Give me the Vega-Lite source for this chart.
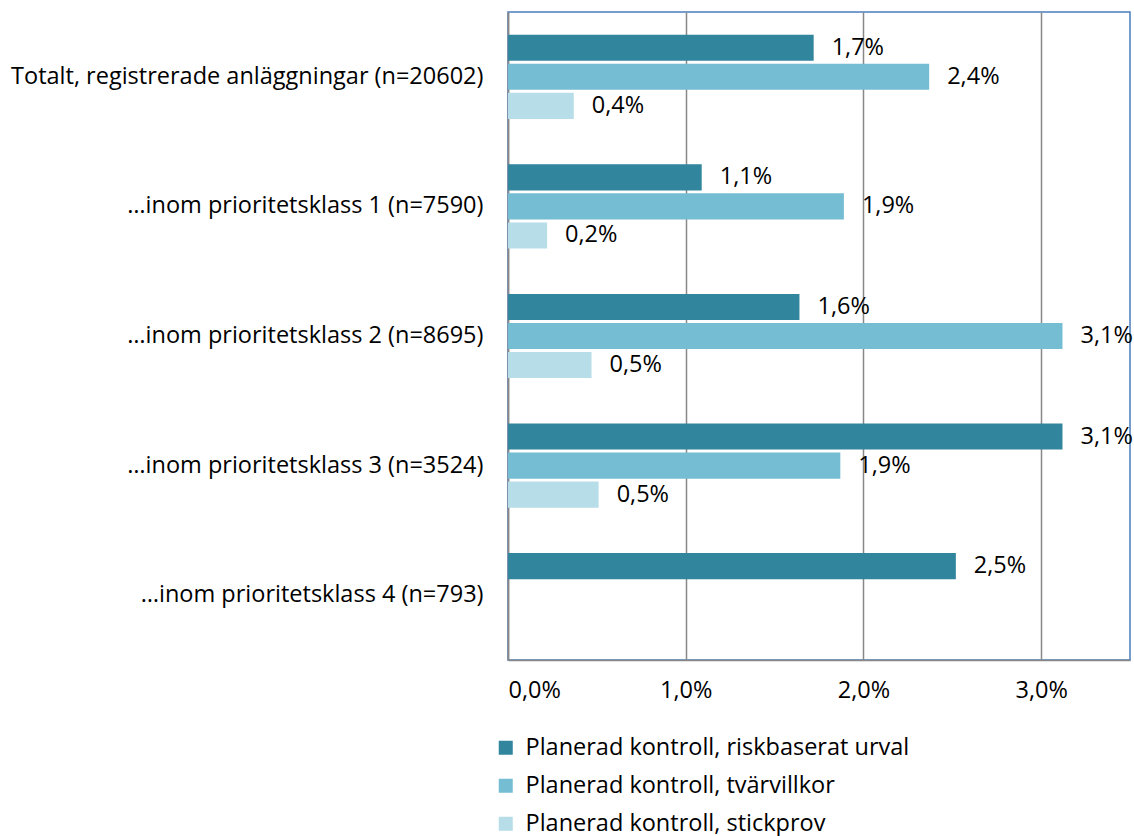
{
  "$schema": "https://vega.github.io/schema/vega-lite/v6.json",
  "width": 622,
  "height": 648,
  "autosize": {"type": "none"},
  "padding": {"left": 508, "top": 12, "right": 4, "bottom": 176},
  "background": "white",
  "config": {
    "locale": {"number": {"decimal": ",", "thousands": " ", "grouping": [3], "currency": ["", " kr"]}},
    "font": "Open Sans",
    "view": {"stroke": "#4a7ebb", "strokeWidth": 1.5}
  },
  "data": {
    "values": [
      {"kategori": "Totalt, registrerade anläggningar (n=20602)", "serie": "Planerad kontroll, riskbaserat urval", "andel": 0.0172},
      {"kategori": "Totalt, registrerade anläggningar (n=20602)", "serie": "Planerad kontroll, tvärvillkor", "andel": 0.0237},
      {"kategori": "Totalt, registrerade anläggningar (n=20602)", "serie": "Planerad kontroll, stickprov", "andel": 0.0037},
      {"kategori": "…inom prioritetsklass 1 (n=7590)", "serie": "Planerad kontroll, riskbaserat urval", "andel": 0.0109},
      {"kategori": "…inom prioritetsklass 1 (n=7590)", "serie": "Planerad kontroll, tvärvillkor", "andel": 0.0189},
      {"kategori": "…inom prioritetsklass 1 (n=7590)", "serie": "Planerad kontroll, stickprov", "andel": 0.0022},
      {"kategori": "…inom prioritetsklass 2 (n=8695)", "serie": "Planerad kontroll, riskbaserat urval", "andel": 0.0164},
      {"kategori": "…inom prioritetsklass 2 (n=8695)", "serie": "Planerad kontroll, tvärvillkor", "andel": 0.0312},
      {"kategori": "…inom prioritetsklass 2 (n=8695)", "serie": "Planerad kontroll, stickprov", "andel": 0.0047},
      {"kategori": "…inom prioritetsklass 3 (n=3524)", "serie": "Planerad kontroll, riskbaserat urval", "andel": 0.0312},
      {"kategori": "…inom prioritetsklass 3 (n=3524)", "serie": "Planerad kontroll, tvärvillkor", "andel": 0.0187},
      {"kategori": "…inom prioritetsklass 3 (n=3524)", "serie": "Planerad kontroll, stickprov", "andel": 0.0051},
      {"kategori": "…inom prioritetsklass 4 (n=793)", "serie": "Planerad kontroll, riskbaserat urval", "andel": 0.0252}
    ]
  },
  "encoding": {
    "y": {
      "field": "kategori", "type": "nominal", "sort": null,
      "scale": {"paddingInner": 0.35, "paddingOuter": 0.175},
      "axis": {"title": null, "ticks": false, "labelFontSize": 23.5, "labelColor": "#000", "labelPadding": 25, "labelLimit": 0, "domainColor": "#888", "domainWidth": 1.5}
    },
    "yOffset": {
      "field": "serie", "type": "nominal",
      "sort": ["Planerad kontroll, riskbaserat urval", "Planerad kontroll, tvärvillkor", "Planerad kontroll, stickprov"],
      "scale": {"paddingInner": 0.1, "domain": ["Planerad kontroll, riskbaserat urval", "Planerad kontroll, tvärvillkor", "Planerad kontroll, stickprov"]}
    },
    "x": {
      "field": "andel", "type": "quantitative",
      "scale": {"domain": [0, 0.035], "nice": false},
      "axis": {"title": null, "values": [0, 0.01, 0.02, 0.03], "format": ".1%", "ticks": false, "labelFontSize": 23.5, "labelColor": "#000", "labelPadding": 18, "grid": true, "gridColor": "#888", "gridWidth": 1.5, "domainColor": "#888", "domainWidth": 1.5}
    }
  },
  "layer": [
    {
      "mark": {"type": "bar"},
      "encoding": {
        "color": {
          "field": "serie", "type": "nominal",
          "scale": {"domain": ["Planerad kontroll, riskbaserat urval", "Planerad kontroll, tvärvillkor", "Planerad kontroll, stickprov"], "range": ["#31859c", "#74bdd3", "#b6dde8"]},
          "legend": {"title": null, "orient": "none", "legendX": -14, "legendY": 724, "direction": "vertical", "symbolType": "square", "symbolSize": 196, "symbolStrokeWidth": 0, "labelFontSize": 23.5, "labelColor": "#000", "rowPadding": 13, "labelOffset": 8, "labelLimit": 0}
        }
      }
    },
    {
      "mark": {"type": "text", "align": "left", "baseline": "middle", "dx": 18, "fontSize": 23.5, "color": "#000"},
      "encoding": {"text": {"field": "andel", "type": "quantitative", "format": ".1%"}}
    }
  ]
}
